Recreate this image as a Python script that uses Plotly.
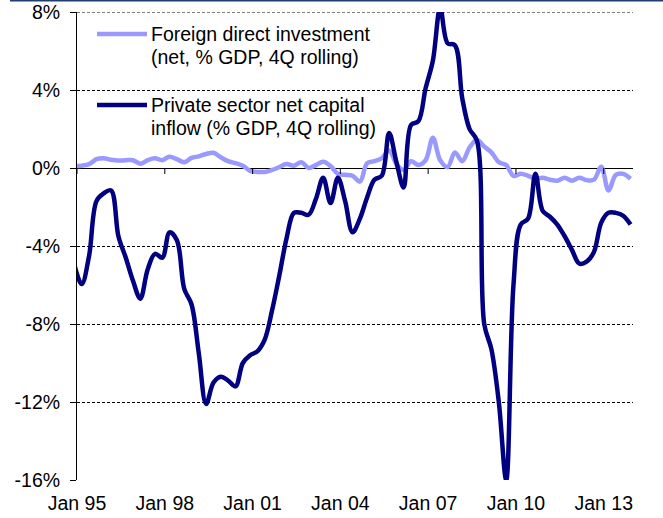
import pandas as pd
import plotly.graph_objects as go

# Quarterly observations, Dec 94 .. Dec 13 (quarter-end months)
quarters = pd.date_range('1994-12-01', periods=77, freq='3MS')

# Foreign direct investment (net, % GDP, 4Q rolling)
fdi = [0.1, 0.12, 0.2, 0.45, 0.5, 0.42, 0.38, 0.4, 0.4, 0.22,
       0.4, 0.5, 0.4, 0.58, 0.45, 0.3, 0.52, 0.6, 0.72, 0.78,
       0.55, 0.35, 0.25, 0.12, -0.15, -0.2, -0.2, -0.1, 0.05, 0.2,
       0.12, 0.3, 0.0, 0.15, 0.32, 0.1, -0.3, -0.35, -0.4, -0.7,
       0.25, 0.35, 0.5, 0.9, 0.2, -0.1, 0.35, 0.15, 0.4, 1.55,
       0.4, 0.05, 0.8, 0.35, 1.05, 1.45, 1.1, 0.8, 0.3, 0.15,
       -0.4, -0.3, -0.4, -0.55, -0.5, -0.6, -0.65, -0.5, -0.65, -0.5,
       -0.62, -0.6, 0.07, -1.15, -0.35, -0.3, -0.55]

# Private sector net capital inflow (% GDP, 4Q rolling)
private_inflow = [-5.0, -5.95, -4.5, -1.7, -1.3, -1.15, -3.5, -4.6, -5.8, -6.7,
                  -5.2, -4.4, -4.6, -3.3, -3.7, -6.2, -7.0, -9.5, -12.1, -11.0,
                  -10.7, -10.9, -11.2, -10.0, -9.6, -9.4, -8.8, -7.3, -5.5, -3.6,
                  -2.3, -2.3, -2.4, -1.6, -0.5, -1.8, -0.5, -1.7, -3.3, -2.6,
                  -1.5, -0.6, -0.4, 1.8, 0.3, -1.0, 2.2, 2.4, 4.1, 5.5,
                  8.2, 6.4, 6.3, 3.6, 2.0, 1.4, -8.0, -9.3, -12.0, -16.0,
                  -6.0, -2.9, -2.6, -0.3, -2.2, -2.5, -2.9, -3.5, -4.2, -4.9,
                  -4.8, -4.3, -2.8, -2.3, -2.3, -2.45, -2.9]

x_ticks = ['1995-01-01', '1998-01-01', '2001-01-01', '2004-01-01',
           '2007-01-01', '2010-01-01', '2013-01-01']
x_labels = ['Jan 95', 'Jan 98', 'Jan 01', 'Jan 04', 'Jan 07', 'Jan 10', 'Jan 13']
y_ticks = [-16, -12, -8, -4, 0, 4, 8]
y_labels = ['-16%', '-12%', '-8%', '-4%', '0%', '4%', '8%']

LIGHT = '#9999FF'
NAVY = '#000080'
FONT = 'Liberation Sans, Arial, sans-serif'
FSIZE = 19.5

fig = go.Figure()
fig.add_trace(go.Scatter(x=quarters, y=fdi, mode='lines',
                         line=dict(color=LIGHT, width=4.5, shape='spline'),
                         name='Foreign direct investment'))
fig.add_trace(go.Scatter(x=quarters, y=private_inflow, mode='lines',
                         line=dict(color=NAVY, width=4.5, shape='spline'),
                         name='Private sector net capital inflow'))

shapes = []
# plotly drops the gridline on the top edge, so draw it
shapes.append(dict(type='line', xref='paper', yref='y', x0=0, x1=1,
                   y0=y_ticks[-1], y1=y_ticks[-1], layer='below',
                   line=dict(color='black', width=1, dash='3px,2px')))

# tick marks hanging from the zero line
for t in x_ticks:
    shapes.append(dict(type='line', xref='x', yref='y', x0=t, x1=t,
                       ysizemode='pixel', yanchor=0, y0=0, y1=-6,
                       line=dict(color='black', width=1)))

# hand-made legend samples (longer than plotly's own)
for yy, col in [(0.953, LIGHT), (0.8013, NAVY)]:
    shapes.append(dict(type='line', xref='paper', yref='paper',
                       x0=0.036, x1=0.1259, y0=yy, y1=yy,
                       line=dict(color=col, width=4.5)))

# thin header rule along the top of the page
shapes.append(dict(type='line', xref='paper', yref='paper',
                   x0=-0.1205, x1=1.06, y0=1.0245, y1=1.0245,
                   line=dict(color='#1F3F6F', width=2)))

legend_lines = [('Foreign direct investment', 0.953),
                ('(net, % GDP, 4Q rolling)', 0.9038),
                ('Private sector net capital', 0.8013),
                ('inflow (% GDP, 4Q rolling)', 0.7532)]
annotations = [dict(text=txt, x=0.1295, y=yy, xref='paper', yref='paper',
                    xanchor='left', yanchor='middle', showarrow=False,
                    font=dict(size=FSIZE, color='black', family=FONT))
               for txt, yy in legend_lines]

fig.update_xaxes(range=['1995-01-01', '2014-01-01'], tickvals=x_ticks, ticktext=x_labels,
                 showgrid=False, showline=False, ticks='', zeroline=False,
                 automargin=False, ticklabelstandoff=9,
                 tickfont=dict(size=FSIZE, color='black', family=FONT))
fig.update_yaxes(range=[-16, 8], tickvals=y_ticks, ticktext=y_labels,
                 showgrid=True, gridcolor='black', gridwidth=1, griddash='3px,2px',
                 zeroline=True, zerolinecolor='black', zerolinewidth=1,
                 showline=True, linecolor='black', linewidth=1,
                 ticks='outside', ticklen=6, tickcolor='black',
                 automargin=False, ticklabelstandoff=6,
                 tickfont=dict(size=FSIZE, color='black', family=FONT))

fig.update_layout(width=663, height=518,
                  margin=dict(l=77, r=30, t=12, b=38),
                  plot_bgcolor='white', paper_bgcolor='white',
                  showlegend=False, shapes=shapes, annotations=annotations,
                  font=dict(family=FONT, color='black'))

# drop the browser's default 8px body margin so the figure sits at the page corner
fig.write_html('out.html', config={'displayModeBar': False},
               post_script="document.body.style.margin = '0';")
